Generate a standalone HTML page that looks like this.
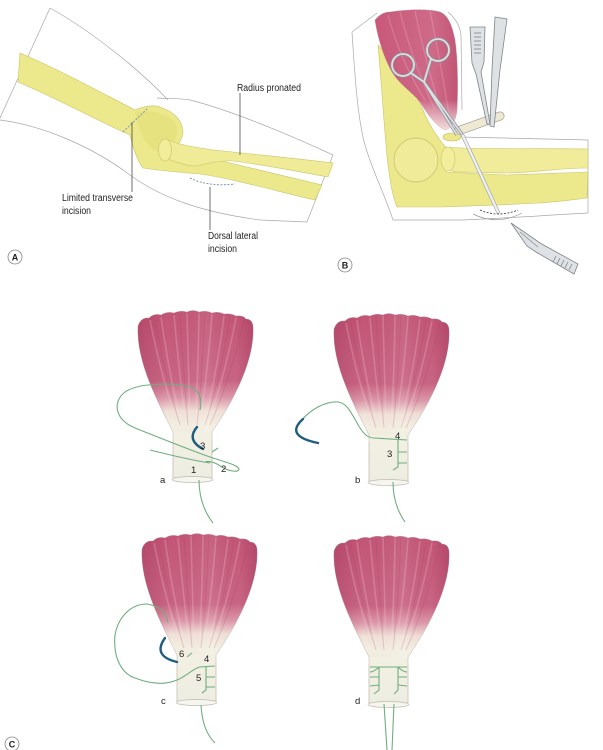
<!DOCTYPE html>
<html><head><meta charset="utf-8">
<style>
html,body{margin:0;padding:0;background:#fff;}
svg{display:block;}
text{font-family:"Liberation Sans",Arial,sans-serif;fill:#222;}
</style></head>
<body>
<svg width="603" height="750" viewBox="0 0 603 750" xmlns="http://www.w3.org/2000/svg">
<defs>
  <linearGradient id="mg" x1="0" y1="0" x2="0" y2="1">
    <stop offset="0" stop-color="#c25576"/>
    <stop offset="0.42" stop-color="#c96584"/>
    <stop offset="0.52" stop-color="#dc98aa"/>
    <stop offset="0.6" stop-color="#f0e2d8"/>
    <stop offset="0.68" stop-color="#f3f1e2"/>
    <stop offset="1" stop-color="#eeede2"/>
  </linearGradient>
  <linearGradient id="mside" x1="0" y1="0" x2="1" y2="0">
    <stop offset="0" stop-color="#8a1f45" stop-opacity="0.25"/>
    <stop offset="0.25" stop-color="#8a1f45" stop-opacity="0"/>
    <stop offset="0.6" stop-color="#ffffff" stop-opacity="0.08"/>
    <stop offset="0.85" stop-color="#8a1f45" stop-opacity="0"/>
    <stop offset="1" stop-color="#8a1f45" stop-opacity="0.28"/>
  </linearGradient>
  <linearGradient id="bg" x1="0" y1="0" x2="1" y2="0">
    <stop offset="0" stop-color="#c8587a"/>
    <stop offset="0.7" stop-color="#cf6a88"/>
    <stop offset="1" stop-color="#c25576"/>
  </linearGradient>
  <linearGradient id="bgv" x1="0" y1="0" x2="0" y2="1">
    <stop offset="0.75" stop-color="#fff" stop-opacity="0"/>
    <stop offset="1" stop-color="#f5ece4" stop-opacity="0.9"/>
  </linearGradient>
  <g id="fan">
    <path d="M138,326 Q141,317 149,318 Q154,313 161,315 Q167,311 174,313 Q180,310 187,312 Q193,309 199,312 Q206,310 212,313 Q218,311 224,314 Q231,313 236,316 Q243,315 246,319 Q252,319 253,326 C255,360 234,400 212,432 L212,478 L173,478 L173,432 C158,402 136,362 138,326 Z" fill="url(#mg)" stroke="#b99aa0" stroke-width="0.4"/>
    <path d="M138,326 Q141,317 149,318 Q154,313 161,315 Q167,311 174,313 Q180,310 187,312 Q193,309 199,312 Q206,310 212,313 Q218,311 224,314 Q231,313 236,316 Q243,315 246,319 Q252,319 253,326 C255,360 234,400 212,432 L173,432 C158,402 136,362 138,326 Z" fill="url(#mside)"/>
    <g stroke="#fbe3ea" stroke-opacity="0.22" stroke-width="1.6" fill="none">
      <path d="M150,320 Q162,380 178,425"/>
      <path d="M161,317 Q170,380 182,425"/>
      <path d="M174,315 Q180,380 186,425"/>
      <path d="M187,313 Q189,380 190,425"/>
      <path d="M199,313 Q198,380 195,425"/>
      <path d="M212,314 Q207,380 199,425"/>
      <path d="M224,316 Q216,380 203,425"/>
      <path d="M236,318 Q224,380 207,425"/>
    </g>
    <g stroke="#a83e60" stroke-opacity="0.22" stroke-width="1" fill="none">
      <path d="M155,320 Q166,380 180,425"/>
      <path d="M180,314 Q184,380 188,425"/>
      <path d="M205,313 Q202,380 197,425"/>
      <path d="M230,317 Q220,380 205,425"/>
      <path d="M244,320 Q230,380 210,425"/>
    </g>
    <path d="M173,440 L173,478 M212,440 L212,478" stroke="#c9c6b8" stroke-width="0.7" fill="none"/>
    <ellipse cx="192.5" cy="479.5" rx="20.5" ry="3" fill="#f6f5ee" stroke="#bdbbb0" stroke-width="0.7"/>
  </g>
</defs>

<!-- ================= PANEL A ================= -->
<g fill="none" stroke="#a8a8a8" stroke-width="0.7">
  <path d="M50,8 C90,30 140,70 168,100"/>
  <path d="M50,8 L0,118"/>
  <path d="M157,98 C170,99 180,98 190,100 C230,110 290,135 333,155"/>
  <path d="M0,120 C40,125 90,145 130,175 C160,197 200,212 260,220 L307,222"/>
  <path d="M333,155 L307,222"/>
</g>
<path d="M20,53 C60,70 100,92 135,110 C145,106 155,104 162,108 C175,112 183,122 183,133 C182,140 178,145 175,148 L230,163 C260,170 300,180 322,185 L315,200 C280,192 230,178 200,174 C175,172 155,170 143,168 C137,160 133,148 130,135 C100,122 60,100 18,82 Z" fill="#ece88c" stroke="#cbc36a" stroke-width="0.6"/>
<path d="M135,112 C150,110 165,112 175,122 C180,132 176,146 160,152 C150,150 140,140 135,112 Z" fill="#e4de78" opacity="0.6"/>
<path d="M168,140 C180,145 200,149 233,152 C270,156 300,159 333,163 L328,177 C295,171 260,164 233,161 C215,160 205,165 195,166 C185,166 178,162 170,160 Z" fill="#efeb96" stroke="#cbc36a" stroke-width="0.6"/>
<ellipse cx="165" cy="150" rx="6.5" ry="11" fill="#f1ed9a" stroke="#cbc36a" stroke-width="0.6"/>
<path d="M123,132 L148,108" stroke="#7f98b0" stroke-width="1" stroke-dasharray="2,1.5" fill="none"/>
<path d="M190,178 Q208,187 235,184" stroke="#7f98b0" stroke-width="1" stroke-dasharray="2,1.5" fill="none"/>
<g stroke="#333" stroke-width="0.7">
  <line x1="240" y1="93" x2="240" y2="155"/>
  <line x1="132" y1="122" x2="132" y2="192"/>
  <line x1="210" y1="187" x2="210" y2="230"/>
</g>
<g font-size="10">
  <text x="237" y="91" textLength="64" lengthAdjust="spacingAndGlyphs">Radius pronated</text>
  <text x="62" y="201" textLength="71" lengthAdjust="spacingAndGlyphs">Limited transverse</text>
  <text x="62" y="214" textLength="29" lengthAdjust="spacingAndGlyphs">incision</text>
  <text x="208" y="239" textLength="50" lengthAdjust="spacingAndGlyphs">Dorsal lateral</text>
  <text x="208" y="252" textLength="29" lengthAdjust="spacingAndGlyphs">incision</text>
</g>
<circle cx="15" cy="257" r="7" fill="#fff" stroke="#888" stroke-width="0.8"/>
<text x="15" y="260.5" font-size="9" font-weight="bold" text-anchor="middle">A</text>

<!-- ================= PANEL B ================= -->
<g fill="none" stroke="#a8a8a8" stroke-width="0.7">
  <path d="M352,32 L377,13"/>
  <path d="M352,32 C355,80 358,120 365,145 C372,170 385,195 393,220 L463,220 C510,218 550,215 588,213"/>
  <path d="M448,12 C455,18 460,25 461,35 L462,110"/>
  <path d="M460,137 C500,138 550,139 588,140 L588,213"/>
</g>
<path d="M378,45 L392,60 C405,80 418,95 425,115 C432,130 440,140 446,148 L446,172 L507,175 C540,174 565,173 588,172 L587,198 C570,200 555,202 540,203 C500,205 470,206 440,207 L397,207 C392,195 390,180 388,165 C385,140 382,90 378,45 Z" fill="#ece88c" stroke="#cbc36a" stroke-width="0.6"/>
<circle cx="416" cy="160" r="22" fill="#efeb98" stroke="#c9c070" stroke-width="0.7"/>
<path d="M446,147 C480,150 540,148 588,149 L588,168 C560,168 530,173 507,173 C490,173 475,172 460,172 C452,172 446,170 443,165 Z" fill="#f0ec9a" stroke="#cbc36a" stroke-width="0.6"/>
<ellipse cx="448" cy="159" rx="7" ry="12" fill="#f2ee9c" stroke="#cbc36a" stroke-width="0.6"/>
<path d="M375,20 C380,14 385,12 390,12 C410,9 430,9 440,12 C448,15 452,25 455,40 C458,60 458,90 457,110 C456,120 452,128 445,130 C435,125 428,115 420,102 C412,92 400,85 392,72 C385,60 378,40 375,20 Z" fill="url(#bg)" stroke="#b88a96" stroke-width="0.4"/>
<path d="M375,20 C380,14 385,12 390,12 C410,9 430,9 440,12 C448,15 452,25 455,40 C458,60 458,90 457,110 C456,120 452,128 445,130 C435,125 428,115 420,102 C412,92 400,85 392,72 C385,60 378,40 375,20 Z" fill="url(#bgv)"/>
<g stroke="#f0b8c8" stroke-opacity="0.3" stroke-width="1.3" fill="none">
  <path d="M388,15 Q400,60 425,100"/><path d="M400,12 Q412,60 435,110"/>
  <path d="M415,11 Q425,60 443,118"/><path d="M430,11 Q440,60 450,120"/>
</g>
<line x1="458" y1="131" x2="500" y2="116" stroke="#a9a496" stroke-width="9" stroke-linecap="round"/>
<line x1="458" y1="131" x2="500" y2="116" stroke="#efe9d4" stroke-width="7.5" stroke-linecap="round"/>
<ellipse cx="452" cy="137" rx="9" ry="4" fill="#ece78a" stroke="#c4bc60" stroke-width="0.6"/>
<line x1="463" y1="136" x2="498" y2="212" stroke="#9aa0a6" stroke-width="3.6" stroke-linecap="round"/>
<line x1="463" y1="136" x2="498" y2="212" stroke="#eef0f2" stroke-width="2.4" stroke-linecap="round"/>
<g fill="none" stroke="#8b9096" stroke-width="3.2">
  <circle cx="403" cy="65" r="11"/><circle cx="438" cy="50" r="11"/>
  <path d="M411,73 L424,82 L462,134"/><path d="M431,59 L424,82 L457,135"/>
</g>
<g fill="none" stroke="#dde0e3" stroke-width="1.8">
  <circle cx="403" cy="65" r="11"/><circle cx="438" cy="50" r="11"/>
  <path d="M411,73 L424,82 L462,134"/><path d="M431,59 L424,82 L457,135"/>
</g>
<path d="M470,27 L485,27 L484,62 L481,72 L489,118 L490,124 L487,124 L476,74 L472,63 Z" fill="#dfe2e5" stroke="#7e848a" stroke-width="0.8"/>
<g stroke="#7e848a" stroke-width="0.8"><line x1="474" y1="33" x2="481" y2="33"/><line x1="474" y1="37" x2="481" y2="37"/><line x1="474" y1="41" x2="481" y2="41"/><line x1="474" y1="45" x2="481" y2="45"/><line x1="474" y1="49" x2="481" y2="49"/><line x1="474" y1="53" x2="481" y2="53"/></g>
<path d="M495,17 L507,19 L500,70 L494,127 L490,126 L492,70 Z" fill="#dfe2e5" stroke="#7e848a" stroke-width="0.8"/>
<path d="M480,210 Q498,218 518,210" stroke="#333" stroke-width="0.8" stroke-dasharray="2,1.5" fill="none"/>
<path d="M473,214 Q497,226 522,213" stroke="#999" stroke-width="0.7" fill="none"/>
<path d="M511,223 L530,236 L540,243 L578,264 L574,274 L536,252 L527,246 L520,236 Z" fill="#dfe2e5" stroke="#7e848a" stroke-width="0.8"/>
<path d="M520,232 L538,247" stroke="#7e848a" stroke-width="0.6"/>
<g stroke="#7e848a" stroke-width="0.8"><line x1="556" y1="256" x2="553" y2="262"/><line x1="560" y1="258" x2="557" y2="264"/><line x1="564" y1="260" x2="561" y2="266"/><line x1="568" y1="262" x2="565" y2="268"/><line x1="572" y1="264" x2="569" y2="270"/></g>
<circle cx="345" cy="265" r="7" fill="#fff" stroke="#888" stroke-width="0.8"/>
<text x="345" y="268.5" font-size="9" font-weight="bold" text-anchor="middle">B</text>

<!-- ================= PANEL C ================= -->
<use href="#fan"/>
<use href="#fan" transform="translate(196,3)"/>
<use href="#fan" transform="translate(4,223)"/>
<use href="#fan" transform="translate(196,225)"/>

<g fill="none" stroke="#6fae80" stroke-width="1.1">
  <path d="M200,410 C203,398 198,389 190,387 C175,383 140,382 125,392 C112,402 115,420 135,428 C160,438 190,450 210,457 C225,462 238,465 239,469 C239,473 228,471 222,467 C216,463 210,460 205,462"/>
  <path d="M150,450 C170,455 190,460 210,463"/>
  <path d="M212,452 L218,448"/>
  <path d="M199,480 C199,495 203,510 213,523"/>
  <path d="M302,420 C310,410 325,401 338,402 C348,403 352,415 360,428 C364,434 368,438 374,438 L407,440"/>
  <path d="M398,440 L398,467 L393,470 M398,452 L407,452 M398,463 L407,463"/>
  <path d="M393,482 C393,500 398,512 405,522"/>
  <path d="M168,623 C167,613 160,606 147,604 C130,604 118,618 115,635 C113,655 120,673 135,678 C148,683 163,686 177,680 C187,676 192,669 200,667 L215,666"/>
  <path d="M206,666 L206,690 L202,693 M206,677 L215,677 M206,687 L215,687"/>
  <path d="M187,657 L192,653"/>
  <path d="M201,705 C202,720 205,733 215,743"/>
  <path d="M370,667 L407,667"/>
  <path d="M379,667 L379,690 L374,694 M379,667 C376,670 373,672 370,672 M379,677 L370,677 M379,685 L370,686"/>
  <path d="M398,667 L398,690 L394,694 M398,667 C401,670 404,672 407,672 M398,677 L407,677 M398,685 L407,686"/>
  <path d="M384,704 L387,750"/>
  <path d="M394,704 L392,750"/>
</g>
<g fill="none" stroke="#1f5d80" stroke-width="2.4" stroke-linecap="round">
  <path d="M197,427 Q186,440 203,449"/>
  <path d="M303,419 Q284,436 318,443"/>
  <path d="M165,638 Q152,656 177,662"/>
</g>

<g font-size="9.5">
  <text x="160" y="483">a</text>
  <text x="191" y="473">1</text>
  <text x="221" y="472">2</text>
  <text x="200" y="449">3</text>
  <text x="355" y="483">b</text>
  <text x="395" y="439">4</text>
  <text x="387" y="457">3</text>
  <text x="161" y="704">c</text>
  <text x="179" y="657">6</text>
  <text x="204" y="662">4</text>
  <text x="196" y="681">5</text>
  <text x="355" y="704">d</text>
</g>
<circle cx="12" cy="744" r="7" fill="#fff" stroke="#888" stroke-width="0.8"/>
<text x="12" y="747.5" font-size="9" font-weight="bold" text-anchor="middle">C</text>
</svg>
</body></html>
